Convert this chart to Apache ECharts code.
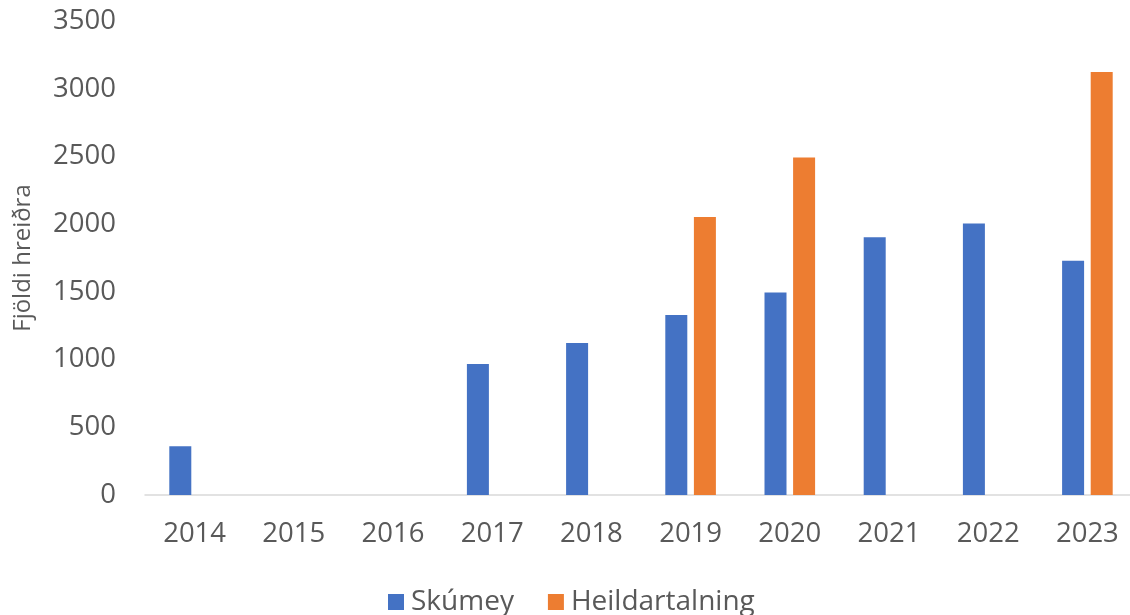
<!DOCTYPE html>
<html>
<head>
<meta charset="utf-8">
<script src="https://cdn.jsdelivr.net/npm/echarts@6/dist/echarts.min.js"></script>
<style>html,body{margin:0;padding:0;background:#fff}#c{width:1130px;height:615px}</style>
</head>
<body>
<div id="c"></div>
<script>
const years = ['2014','2015','2016','2017','2018','2019','2020','2021','2022','2023'];
const skumey = [360, null, null, 967, 1122, 1330, 1495, 1903, 2005, 1730];
const heildartalning = [null, null, null, null, null, 2052, 2493, null, null, 3123];
const seriesNames = ['Skúmey', 'Heildartalning'];
const yAxisTitle = 'Fjöldi hreiðra';

const font = '"Open Sans", sans-serif';
const chart = echarts.init(document.getElementById('c'), null, {renderer: 'canvas'});
chart.setOption({
  animation: false,
  color: ['#4472C4', '#ED7D31'],
  grid: {left: 145, width: 992, top: 21, bottom: 120, outerBoundsMode: 'none', containLabel: false},
  legend: {
    left: 383, top: 583,
    itemWidth: 16, itemHeight: 16, itemGap: 34,
    icon: 'rect',
    textStyle: {fontFamily: font, fontSize: 28, color: '#595959', padding: [0,0,0,2]},
    data: seriesNames
  },
  xAxis: {
    type: 'category', data: years,
    axisLine: {lineStyle: {color: '#d9d9d9', width: 1.5}},
    axisTick: {show: false},
    axisLabel: {fontFamily: font, fontSize: 27.5, color: '#595959', margin: 25}
  },
  yAxis: {
    type: 'value', min: 0, max: 3500, interval: 500,
    name: yAxisTitle, nameLocation: 'middle', nameGap: 110, nameRotate: 90,
    nameTextStyle: {fontFamily: font, fontSize: 24, color: '#595959'},
    axisLine: {show: false}, axisTick: {show: false},
    splitLine: {show: false},
    axisLabel: {fontFamily: font, fontSize: 27.5, color: '#595959', margin: 29,
      formatter: function (v) { return String(v); }}
  },
  series: [
    {name: seriesNames[0], type: 'bar', data: skumey, barWidth: 22, barGap: '30%'},
    {name: seriesNames[1], type: 'bar', data: heildartalning, barWidth: 22, barGap: '30%'}
  ]
});
</script>
</body>
</html>
